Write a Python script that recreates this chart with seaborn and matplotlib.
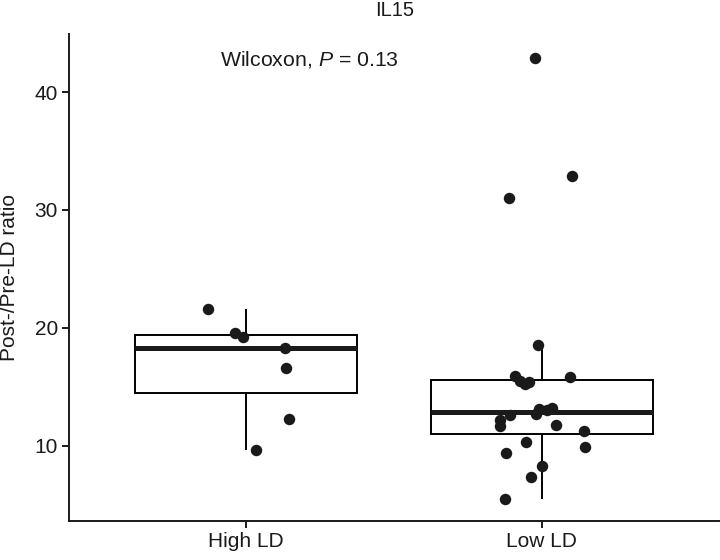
import matplotlib
matplotlib.use("Agg")
import matplotlib.pyplot as plt
import numpy as np
import pandas as pd
import seaborn as sns

# values
groups = ["High LD", "Low LD"]
high_ld = [21.6, 19.55, 19.2, 18.3, 16.58, 12.28, 9.66]
high_jitter = [-0.131, -0.039, -0.010, 0.130, 0.135, 0.143, 0.032]
low_ld = [42.9, 32.85, 30.97, 18.52, 15.9, 15.5, 15.23, 15.42, 15.85, 13.12,
          12.67, 13.04, 13.18, 12.59, 12.13, 11.69, 11.71, 11.2, 10.31, 9.41,
          9.86, 8.31, 7.33, 5.45]
low_jitter = [-0.023, 0.101, -0.110, -0.014, -0.090, -0.073, -0.056, -0.042,
              0.096, -0.011, -0.019, 0.017, 0.034, -0.107, -0.143, -0.141,
              0.048, 0.144, -0.054, -0.122, 0.146, 0.0, -0.036, -0.126]
y_ticks = [10, 20, 30, 40]
title = "IL15"
y_label = "Post-/Pre-LD ratio"
p_value = 0.13

df = pd.DataFrame({
    "group": ["High LD"] * len(high_ld) + ["Low LD"] * len(low_ld),
    "ratio": high_ld + low_ld,
    "jitter": high_jitter + low_jitter,
})
df["xpos"] = df["group"].map({g: i for i, g in enumerate(groups)}) + df["jitter"]

sns.set_theme(style="ticks")
plt.rcParams["font.family"] = ["Liberation Sans", "DejaVu Sans"]
plt.rcParams["mathtext.fontset"] = "custom"
plt.rcParams["mathtext.rm"] = "Liberation Sans"
plt.rcParams["mathtext.it"] = "Liberation Sans:italic"

fig = plt.figure(figsize=(7.2, 5.6), dpi=100)
ax = fig.add_axes([0.0958, 0.0696, 0.903, 0.8692])

sns.boxplot(
    data=df, x="group", y="ratio", order=groups, ax=ax,
    color="white", linecolor="black", linewidth=1.4, width=0.75,
    showfliers=False, showcaps=False, whis=1.5,
    medianprops={"linewidth": 3.6, "color": "#1a1a1a"},
)
sns.scatterplot(data=df, x="xpos", y="ratio", ax=ax, color="#1a1a1a",
                s=68, linewidth=0, zorder=3, legend=False)

ax.text(-0.09, 42.27, f"Wilcoxon, $\\it{{P}}$ = {p_value}", ha="left",
        va="baseline", fontsize=15.3, color="#1a1a1a")

ax.set_xlim(-0.6, 1.6)
ax.set_ylim(3.6, 44.9)
ax.set_yticks(y_ticks)
ax.set_xticks(range(len(groups)))
ax.set_xticklabels(groups)
ax.set_xlabel("")
ax.set_ylabel(y_label, fontsize=15, color="#1a1a1a", labelpad=11)
fig.text(0.548, 1 - 15.5 / 560, title, ha="center", va="baseline",
         fontsize=14.5, color="#1a1a1a")

for side in ["top", "right"]:
    ax.spines[side].set_visible(False)
for side in ["left", "bottom"]:
    ax.spines[side].set_linewidth(1.4)
    ax.spines[side].set_color("#1a1a1a")
ax.tick_params(axis="both", length=5, width=1.4, color="#1a1a1a",
               labelsize=15, labelcolor="#1a1a1a", pad=3)

fig.savefig("out.png", dpi=100)
